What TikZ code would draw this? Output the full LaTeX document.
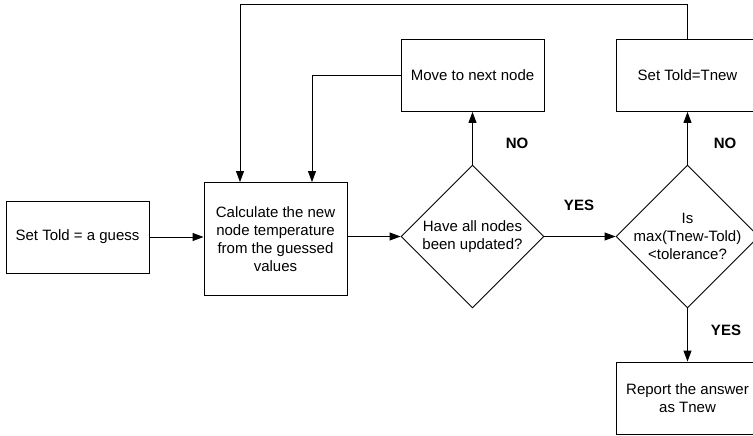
\documentclass[tikz,border=0pt]{standalone}
\usepackage{fontspec}
\setmainfont{Liberation Sans}
\usetikzlibrary{arrows.meta,shapes.geometric}

\begin{document}
\begin{tikzpicture}[x=1pt,y=1pt,
  line width=0.9pt,
  every node/.style={font=\fontsize{15}{18}\selectfont},
  box/.style={draw, minimum width=143pt, minimum height=72pt, inner sep=0pt, align=center},
  decision/.style={draw, diamond, minimum width=143pt, minimum height=143pt, inner sep=0pt},
  answer/.style={font=\fontsize{15}{18}\selectfont\bfseries},
  flow/.style={-{Triangle[length=11pt,width=8pt]}}
]
\useasboundingbox (0,0) rectangle (753,-436);

% process boxes
\node[box] (guess) at (77.5,-237) {Set Told = a guess};
\node[box, minimum height=113pt] (calc) at (275.5,-239) {Calculate the new\\node temperature\\from the guessed\\values};
\node[box] (move) at (472.5,-75.5) {Move to next node};
\node[box] (reset) at (687.5,-75.5) {Set Told=Tnew};
\node[box] (report) at (687.5,-398) {Report the answer\\as Tnew};

% decisions
\node[decision] (updated) at (472.5,-236.5) {};
\node[align=center] (updatedtxt) at (updated.center) {Have all nodes\\been updated?};
\node[decision] (conv) at (687.5,-236.5) {};
\node[align=center] (convtxt) at (conv.center) {Is\\max(Tnew-Told)\\<tolerance?};

% branch labels
\node[answer] (no1) at (517,-143) {NO};
\node[answer] (no2) at (725,-143) {NO};
\node[answer] (yes1) at (579,-205) {YES};
\node[answer] (yes2) at (726,-330) {YES};

% loop-back points
\coordinate (topL) at (240,-4.5);
\coordinate (topR) at (687.5,-4.5);
\coordinate (midL) at (312,-75.5);

% connectors
\draw[flow] (guess.east) -- (guess.east -| calc.west);
\draw[flow] (calc.east |- updated.west) -- (updated.west);
\draw[flow] (updated.east) -- (conv.west);
\draw[flow] (updated.north) -- (move.south);
\draw[flow] (conv.north) -- (reset.south);
\draw[flow] (conv.south) -- (report.north);
\draw[flow] (move.west) -- (midL) -- (midL |- calc.north);
\draw[flow] (reset.north) -- (topR) -- (topL) -- (topL |- calc.north);
\end{tikzpicture}
\end{document}
